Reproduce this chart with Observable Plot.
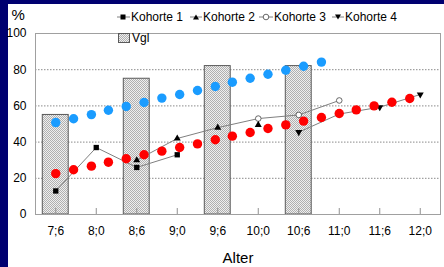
<!DOCTYPE html>
<html><head><meta charset="utf-8">
<script src="https://cdn.jsdelivr.net/npm/d3@7"></script>
<script src="https://cdn.jsdelivr.net/npm/@observablehq/plot@0.6"></script>
<style>
html,body{margin:0;padding:0;background:#000070;}
#wrap{position:relative;width:444px;height:267px;background:#000070;overflow:hidden;font-family:Arial,"Liberation Sans",sans-serif;}
#chart{position:absolute;left:8px;top:4px;width:436px;height:263px;background:#fff;}
#legend{position:absolute;left:0;top:0;width:444px;height:60px;pointer-events:none;}
.li{position:absolute;display:flex;align-items:center;height:14px;font-size:12px;line-height:14px;color:#000;white-space:nowrap;}
.li svg{display:block;margin-right:1px;}
</style></head><body>
<div id="wrap"><div id="chart"></div><div id="legend"></div></div>
<script>
// ---- data ----
const xTickAges = [7.5, 8, 8.5, 9, 9.5, 10, 10.5, 11, 11.5, 12];
const xTickLabels = ["7;6", "8;0", "8;6", "9;0", "9;6", "10;0", "10;6", "11;0", "11;6", "12;0"];
const yTicks = [0, 20, 40, 60, 80, 100];
const gridValues = [20, 40, 60, 80];

const vglAges = [7.5, 8.5, 9.5, 10.5];
const vglValues = [55, 75, 82, 82];

const dotAges = [7.50, 7.72, 7.94, 8.15, 8.37, 8.59, 8.81, 9.03, 9.25, 9.47, 9.68, 9.90, 10.12, 10.34, 10.56, 10.78, 11.00, 11.21, 11.43, 11.65, 11.87];
const blueValues = [50.8, 52.9, 55.2, 57.6, 59.7, 61.9, 64.3, 66.3, 68.5, 70.7, 73.1, 75.3, 77.5, 79.7, 81.9, 84.2];
const redValues = [22.6, 24.7, 26.7, 28.9, 30.8, 33.0, 35.0, 37.0, 39.0, 41.3, 43.3, 45.3, 47.5, 49.5, 51.6, 53.6, 55.8, 57.8, 60.0, 62.0, 64.1];

const k1Ages = [7.5, 8, 8.5, 9];
const k1Values = [13, 37, 26, 33];
const k2Ages = [8.5, 9, 9.5, 10];
const k2Values = [30, 42, 48, 49.5];
const k3Ages = [9.5, 10, 10.5, 11];
const k3Values = [48, 53, 55, 63];
const k4Ages = [10.5, 11, 11.5, 12];
const k4Values = [45.5, 55.5, 59.3, 66.3];

const legendNames = ["Kohorte 1", "Kohorte 2", "Kohorte 3", "Kohorte 4", "Vgl"];

// ---- build tables ----
const zip = (a, v) => v.map((y, i) => ({age: a[i], value: y}));
const vgl = zip(vglAges, vglValues);
const blue = zip(dotAges, blueValues);
const red = zip(dotAges, redValues);
const k1 = zip(k1Ages, k1Values);
const k2 = zip(k2Ages, k2Values);
const k3 = zip(k3Ages, k3Values);
const k4 = zip(k4Ages, k4Values);
const tickLabel = new Map(xTickAges.map((a, i) => [a, xTickLabels[i]]));

const sqrt3 = Math.sqrt(3);
const triangleDown = {draw(context, size) {
  const y = -Math.sqrt(size / (sqrt3 * 3));
  context.moveTo(0, -y * 2);
  context.lineTo(-sqrt3 * y, y);
  context.lineTo(sqrt3 * y, y);
  context.closePath();
}};

const lineStyle = {x: "age", y: "value", stroke: "#808080", strokeWidth: 1};
const barHalf = 0.16;

const chart = Plot.plot({
  width: 436, height: 263,
  marginLeft: 27, marginRight: 4, marginTop: 29, marginBottom: 53,
  style: {fontFamily: "Arial, 'Liberation Sans', sans-serif", fontSize: "12px", background: "#fff", color: "#000", overflow: "visible"},
  x: {domain: [7.25, 12.25], label: null},
  y: {domain: [0, 100], label: null},
  marks: [
    Plot.ruleY(gridValues, {stroke: "#8a8a8a", strokeDasharray: "1.5,1.5"}),
    Plot.rectY(vgl, {x1: d => d.age - barHalf, x2: d => d.age + barHalf, y: "value", fill: "url(#vglpat)", stroke: "#5a5a5a"}),
    Plot.frame({stroke: "#a0a0a0"}),
    Plot.ruleX(xTickAges, {x: d => d, y1: 0, y2: 3.3, stroke: "#909090"}),
    Plot.axisX({ticks: xTickAges, tickFormat: d => tickLabel.get(d), tickSize: 0, tickPadding: 11.5, fontSize: 12, label: null}),
    Plot.axisY({ticks: yTicks, tickSize: 0, tickPadding: 9, fontSize: 12, label: null}),
    Plot.line(k1, lineStyle),
    Plot.line(k2.filter(d => d.age <= 9.5), lineStyle),
    Plot.line(k3, lineStyle),
    Plot.line(k4, lineStyle),
    Plot.dot(k3.filter(d => d.age >= 10), {x: "age", y: "value", symbol: "circle", r: 2.8, fill: "#fff", stroke: "#444", strokeWidth: 0.8}),
    Plot.dot(k1, {x: "age", y: "value", symbol: "square", r: 3.0, fill: "#000"}),
    Plot.dot(k2, {x: "age", y: "value", symbol: "triangle", r: 2.6, fill: "#000"}),
    Plot.dot(k4, {x: "age", y: "value", symbol: triangleDown, r: 2.6, fill: "#000"}),
    Plot.dot(blue, {x: "age", y: "value", r: 4.7, fill: "#1a9cff"}),
    Plot.dot(red, {x: "age", y: "value", r: 4.7, fill: "#ff0000"}),
    Plot.text(["%"], {frameAnchor: "top-left", dx: -24, dy: -24, fontSize: 15}),
    Plot.text(["Alter"], {frameAnchor: "bottom", dy: 48, fontSize: 15})
  ]
});

// dithered grey pattern for the Vgl bars
const defs = d3.select(chart).insert("defs", ":first-child");
const pat = defs.append("pattern").attr("id", "vglpat").attr("width", 2).attr("height", 2).attr("patternUnits", "userSpaceOnUse");
pat.append("rect").attr("width", 2).attr("height", 2).attr("fill", "#efefef");
pat.append("rect").attr("width", 1).attr("height", 1).attr("fill", "#b0b0b0");
pat.append("rect").attr("x", 1).attr("y", 1).attr("width", 1).attr("height", 1).attr("fill", "#b0b0b0");
d3.select(chart).selectAll("g[aria-label=rect] rect").attr("fill", "url(#vglpat)");

document.getElementById("chart").appendChild(chart);

// ---- legend ----
const legend = document.getElementById("legend");
const grey = "#808080";
const items = [
  {left: 117, top: 10, w: 13, sym: `<rect x="3.5" y="3.5" width="5" height="5" fill="#000"/>`},
  {left: 190, top: 10, w: 12, sym: `<path d="M6,3.5 L9,8.5 L3,8.5 Z" fill="#000"/>`},
  {left: 259, top: 10, w: 14, sym: `<circle cx="7" cy="6" r="2.8" fill="#fff" stroke="#444" stroke-width="0.8"/>`},
  {left: 332, top: 10, w: 12, sym: `<path d="M6,8.5 L9,3.5 L3,3.5 Z" fill="#000"/>`}
];
items.forEach((it, i) => {
  const d = document.createElement("div");
  d.className = "li";
  d.style.left = it.left + "px";
  d.style.top = it.top + "px";
  d.innerHTML = `<svg width="${it.w}" height="12"><line x1="0" y1="6" x2="${it.w}" y2="6" stroke="${grey}" stroke-width="1"/>${it.sym}</svg><span>${legendNames[i]}</span>`;
  legend.appendChild(d);
});
const v = document.createElement("div");
v.className = "li";
v.style.left = "118px";
v.style.top = "31px";
v.innerHTML = `<svg width="13" height="10"><defs><pattern id="vglpat2" width="2" height="2" patternUnits="userSpaceOnUse"><rect width="2" height="2" fill="#efefef"/><rect width="1" height="1" fill="#b0b0b0"/><rect x="1" y="1" width="1" height="1" fill="#b0b0b0"/></pattern></defs><rect x="0.5" y="0.5" width="11" height="9" fill="url(#vglpat2)" stroke="#5a5a5a"/></svg><span>${legendNames[4]}</span>`;
legend.appendChild(v);
</script>
</body></html>
